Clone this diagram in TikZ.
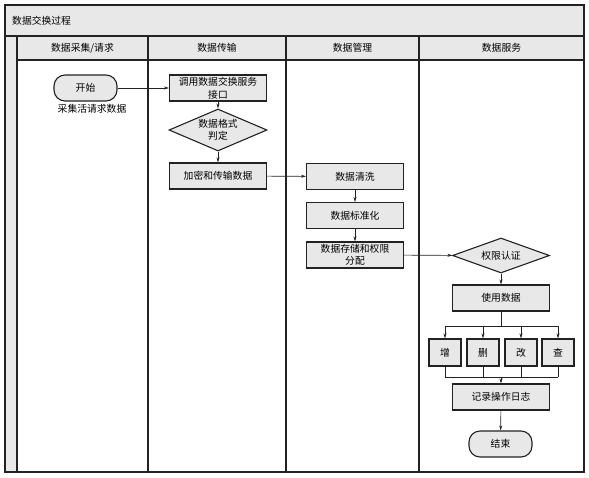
\documentclass[tikz,border=0pt]{standalone}
\usepackage{fontspec}
\setmainfont{Noto Sans CJK SC}
\usetikzlibrary{shapes.geometric,arrows.meta}
\definecolor{boxgray}{HTML}{E8E8E8}
\definecolor{linegray}{HTML}{222222}
\begin{document}
\begin{tikzpicture}[x=1pt,y=-1pt,
  font=\fontsize{9.8}{12.5}\selectfont,
  frame/.style={draw=linegray, line width=1.1pt},
  box/.style={draw=linegray, line width=1.1pt, fill=boxgray, minimum width=97pt, minimum height=26pt, align=center, inner sep=1pt},
  smallbox/.style={box, minimum width=32pt, minimum height=27pt},
  term/.style={box, minimum width=63pt, rounded corners=11pt},
  decision/.style={draw=linegray, line width=1.1pt, fill=boxgray, diamond, align=center, inner sep=0pt},
  conn/.style={draw=linegray, line width=0.6pt},
  arr/.style={conn, -{Stealth[length=5pt,width=3pt]}},
  lbl/.style={inner sep=0pt}
]
\useasboundingbox (0,0) rectangle (589,477);
% swimlane frame
\fill[boxgray] (5,5) rectangle (584,36);
\fill[boxgray] (17,36) rectangle (584,60);
\fill[boxgray] (5,36) rectangle (17,472);
\draw[frame] (5,5) rectangle (584,472);
\draw[frame] (5,36) -- (584,36);
\draw[frame] (17,60) -- (584,60);
\draw[frame] (17,36) -- (17,472);
\draw[frame] (148,36) -- (148,472);
\draw[frame] (286,36) -- (286,472);
\draw[frame] (419,36) -- (419,472);
\node[lbl, anchor=west] (title) at (12,21) {数据交换过程};
\node[lbl] (h1) at (82.5,48) {数据采集/请求};
\node[lbl] (h2) at (217,48) {数据传输};
\node[lbl] (h3) at (352.5,48) {数据管理};
\node[lbl] (h4) at (501.5,48) {数据服务};
% nodes
\node[term] (start) at (85.5,88) {开始};
\node[lbl] (startlbl) at (92,109) {采集活请求数据};
\node[box] (call) at (218,88) {调用数据交换服务\\接口};
\node[decision, aspect=2.3, minimum width=98pt, minimum height=42pt] (fmt) at (218,130) {数据格式\\判定};
\node[box] (enc) at (218,176) {加密和传输数据};
\node[box] (clean) at (355,176.5) {数据清洗};
\node[box] (std) at (355,215.5) {数据标准化};
\node[box] (store) at (355,255) {数据存储和权限\\分配};
\node[decision, aspect=2.8, minimum width=97pt, minimum height=35pt] (auth) at (501,255.5) {权限认证};
\node[box] (use) at (501,298) {使用数据};
\node[smallbox] (add) at (445,352.5) {增};
\node[smallbox] (del) at (483,352.5) {删};
\node[smallbox] (mod) at (521,352.5) {改};
\node[smallbox] (qry) at (558,352.5) {查};
\node[box] (log) at (501,397) {记录操作日志};
\node[term] (end) at (500.5,444) {结束};
% connectors
\draw[arr] (start) -- (call);
\draw[arr] (call) -- (fmt);
\draw[arr] (fmt) -- (enc);
\draw[arr] (enc) -- (clean);
\draw[arr] (clean) -- (std);
\draw[arr] (std) -- (store);
\draw[arr] (store) -- (auth);
\draw[arr] (auth) -- (use);
\coordinate (split) at (501,326);
\coordinate (merge) at (501,377);
\draw[conn] (use) -- (split);
\draw[conn] (add.north |- split) -- (qry.north |- split);
\foreach \b in {add,del,mod,qry} {
  \draw[arr] (\b.north |- split) -- (\b);
  \draw[conn] (\b) -- (\b.south |- merge);
}
\draw[conn] (add.south |- merge) -- (qry.south |- merge);
\draw[arr] (merge) -- (log);
\draw[arr] (log) -- (end);
\end{tikzpicture}
\end{document}
